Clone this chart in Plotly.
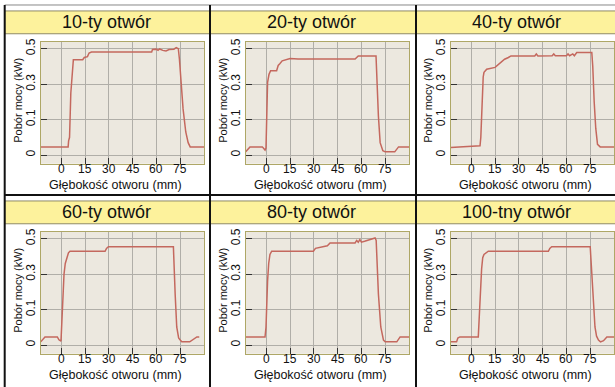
import plotly.graph_objects as go

W, H = 615, 387

titles = ["10-ty otwór", "20-ty otwór", "40-ty otwór",
          "60-ty otwór", "80-ty otwór", "100-tny otwór"]
x_title = "Głębokość otworu (mm)"
y_title = "Pobór mocy (kW)"
x_tickvals = [0, 15, 30, 45, 60, 75]
x_ticktext = ["0", "15", "30", "45", "60", "75"]
y_tickvals = [-0.1, 0.1, 0.3, 0.5]
y_ticktext = ["0", "0.1", "0.3", "0.5"]

depth_10 = [-13, 4.3, 4.6, 5.2, 6.0, 7.0, 7.6, 13.5, 14.5, 16.5, 17.5, 19, 57, 57.5, 60, 61, 62, 64, 66, 68, 71, 72.5, 73.8, 74.5, 75.5, 76.8, 78.5, 80, 81.3, 90]
power_10 = [-0.054, -0.054, -0.02, 0.0, 0.25, 0.40, 0.437, 0.437, 0.45, 0.455, 0.475, 0.481, 0.481, 0.495, 0.497, 0.49, 0.498, 0.49, 0.487, 0.495, 0.497, 0.506, 0.50, 0.44, 0.33, 0.16, 0.03, -0.03, -0.054, -0.054]

depth_20 = [-13, -10.3, -2.5, -0.8, -0.2, 0.3, 0.8, 1.7, 2.7, 6.5, 7.5, 8.5, 10, 15, 20, 30, 40, 45, 50, 56, 58, 69.2, 69.7, 70.7, 71.8, 73.5, 75, 81, 83.4, 90]
power_20 = [-0.082, -0.054, -0.054, -0.072, -0.06, 0.15, 0.31, 0.355, 0.375, 0.375, 0.405, 0.415, 0.431, 0.444, 0.441, 0.442, 0.44, 0.438, 0.441, 0.441, 0.459, 0.459, 0.30, 0.12, -0.03, -0.075, -0.082, -0.082, -0.054, -0.054]

depth_40 = [-13, 5.5, 6.0, 6.8, 7.5, 8, 9.7, 15, 17, 19, 21, 23.4, 25, 40, 41, 42, 51, 52, 53, 60, 61, 62, 64, 65, 66.5, 76, 76.6, 77.5, 78.5, 79.6, 81.3, 90]
power_40 = [-0.057, -0.048, 0.0, 0.2, 0.34, 0.366, 0.384, 0.394, 0.41, 0.422, 0.44, 0.45, 0.459, 0.459, 0.47, 0.459, 0.46, 0.47, 0.46, 0.46, 0.47, 0.46, 0.47, 0.46, 0.478, 0.478, 0.40, 0.2, 0.05, -0.04, -0.054, -0.054]

depth_60 = [-13, -11, -10.3, -2.5, -1.5, -0.2, 0.3, 1.0, 1.7, 2.5, 3.4, 4.5, 5.5, 27.6, 28.5, 29.7, 70.7, 71.3, 71.8, 72.8, 74, 75, 76, 81, 83, 85.5, 87]
power_60 = [-0.082, -0.06, -0.054, -0.054, -0.07, -0.078, 0.05, 0.2, 0.299, 0.36, 0.392, 0.42, 0.429, 0.429, 0.445, 0.454, 0.454, 0.35, 0.188, 0.002, -0.06, -0.072, -0.082, -0.082, -0.07, -0.054, -0.054]

depth_80 = [-13, -0.8, -0.2, 0.3, 0.8, 1.5, 2.3, 3.4, 29.7, 31, 32.8, 36, 38.5, 40.2, 56, 57, 58, 59, 60, 62, 64, 66.5, 68.6, 69.3, 69.7, 70.7, 72.2, 73.9, 75, 82.3, 84.4, 90]
power_80 = [-0.054, -0.054, 0.0, 0.15, 0.262, 0.36, 0.411, 0.429, 0.429, 0.445, 0.448, 0.454, 0.46, 0.476, 0.476, 0.49, 0.48, 0.494, 0.48, 0.485, 0.49, 0.5, 0.504, 0.49, 0.40, 0.188, 0.002, -0.072, -0.082, -0.082, -0.054, -0.054]

depth_100 = [-13, -9.3, -8.5, -7.2, 4.4, 5.0, 5.5, 6.5, 7.2, 8, 10.7, 48.6, 49.5, 50.7, 75, 75.7, 76.6, 78, 79, 80.2, 81.5, 83.4, 85.5, 90]
power_100 = [-0.082, -0.082, -0.06, -0.054, -0.054, 0.05, 0.188, 0.33, 0.392, 0.411, 0.429, 0.429, 0.445, 0.454, 0.454, 0.35, 0.188, 0.002, -0.05, -0.072, -0.082, -0.075, -0.054, -0.054]

depths = [depth_10, depth_20, depth_40, depth_60, depth_80, depth_100]
powers = [power_10, power_20, power_40, power_60, power_80, power_100]

FONT = "Liberation Sans, Arial, sans-serif"
LINE_COLOR = "#c4685e"
BG = "#ece8df"
GRID = "#b0aea8"
FRAME = "#aea766"


def px(x):
    return x / W


def py(y):
    return 1 - y / H


fig = go.Figure()
layout = dict(
    width=W, height=H, margin=dict(l=0, r=0, t=0, b=0),
    paper_bgcolor="white", plot_bgcolor=BG, showlegend=False,
    font=dict(family=FONT, color="#111"),
)
annotations = []
shapes = []

COL_OFF = 205
ROW_OFF = 191.5
dividers = [4.7, 210, 416, 616]

for i in range(6):
    r, c = divmod(i, 3)
    n = "" if i == 0 else str(i + 1)
    xa, ya = "xaxis" + n, "yaxis" + n
    fig.add_trace(go.Scatter(
        x=depths[i], y=powers[i], mode="lines",
        line=dict(color=LINE_COLOR, width=1.5),
        xaxis="x" + n, yaxis="y" + n, hoverinfo="skip",
    ))
    x0 = 40.7 + COL_OFF * c
    x1 = min(204 + COL_OFF * c, 614.5)
    y0 = 39 + ROW_OFF * r
    y1 = 162 + ROW_OFF * r
    layout[xa] = dict(
        domain=[px(x0), px(x1)], anchor="y" + n, range=[-13, 90],
        tickmode="array", tickvals=x_tickvals, ticktext=x_ticktext,
        showticklabels=False,
        ticks="inside", ticklen=6, tickcolor="#333", tickwidth=1,
        showgrid=True, gridcolor=GRID, gridwidth=1,
        showline=True, mirror=True, linecolor=FRAME, linewidth=1,
        zeroline=False,
    )
    layout[ya] = dict(
        domain=[py(y1), py(y0)], anchor="x" + n, range=[-0.149, 0.539],
        tickmode="array", tickvals=y_tickvals, ticktext=y_ticktext,
        ticks="inside", ticklen=6, tickcolor="#333", tickwidth=1,
        tickangle=-90,
        showgrid=True, gridcolor=GRID, gridwidth=1,
        showline=True, mirror=True, linecolor=FRAME, linewidth=1,
        zeroline=False, tickfont=dict(family=FONT, size=12, color="#111"),
    )
    # x tick labels (placed just under the frame)
    for tv, tt in zip(x_tickvals, x_ticktext):
        annotations.append(dict(
            text=tt, xref="x" + n, yref="paper", x=tv,
            y=py(167.5 + ROW_OFF * r), xanchor="center", yanchor="middle",
            showarrow=False, font=dict(family=FONT, size=12, color="#111"),
        ))
    # title strip
    sy0 = 8 + ROW_OFF * r
    sy1 = 31 + ROW_OFF * r
    shapes.append(dict(type="rect", xref="paper", yref="paper",
                       x0=px(dividers[c]), x1=px(dividers[c + 1]),
                       y0=py(sy1), y1=py(sy0),
                       fillcolor="#fdf29c", line=dict(color="#8f8a66", width=1),
                       layer="below"))
    annotations.append(dict(
        text=titles[i], xref="paper", yref="paper",
        x=px(106.7 + COL_OFF * c), y=py((sy0 + sy1) / 2),
        xanchor="center", yanchor="middle", showarrow=False,
        font=dict(family=FONT, size=18, color="#111"),
    ))
    annotations.append(dict(
        text=x_title, xref="paper", yref="paper",
        x=px(115.8 + COL_OFF * c), y=py(183 + ROW_OFF * r),
        xanchor="center", yanchor="middle", showarrow=False,
        font=dict(family=FONT, size=12.5, color="#111"),
    ))
    annotations.append(dict(
        text=y_title, xref="paper", yref="paper", textangle=-90,
        x=px(18 + COL_OFF * c), y=py(98.5 + ROW_OFF * r),
        xanchor="center", yanchor="middle", showarrow=False,
        font=dict(family=FONT, size=11, color="#111"),
    ))

# frame lines
shapes.append(dict(type="line", xref="paper", yref="paper",
                   x0=px(4.7), x1=1, y0=py(2), y1=py(2),
                   line=dict(color="#888888", width=1)))
for xv in dividers[:3]:
    shapes.append(dict(type="line", xref="paper", yref="paper",
                       x0=px(xv), x1=px(xv), y0=py(2), y1=0,
                       line=dict(color="#111111", width=2)))
shapes.append(dict(type="line", xref="paper", yref="paper",
                   x0=px(4.7), x1=1, y0=py(193.5), y1=py(193.5),
                   line=dict(color="#111111", width=2)))

layout["annotations"] = annotations
layout["shapes"] = shapes
fig.update_layout(**layout)
fig.write_html(
    "out.html",
    config={"displayModeBar": False, "staticPlot": True},
    post_script="document.body.style.margin='0';document.body.style.padding='0';"
                "document.documentElement.style.overflow='hidden';",
)
